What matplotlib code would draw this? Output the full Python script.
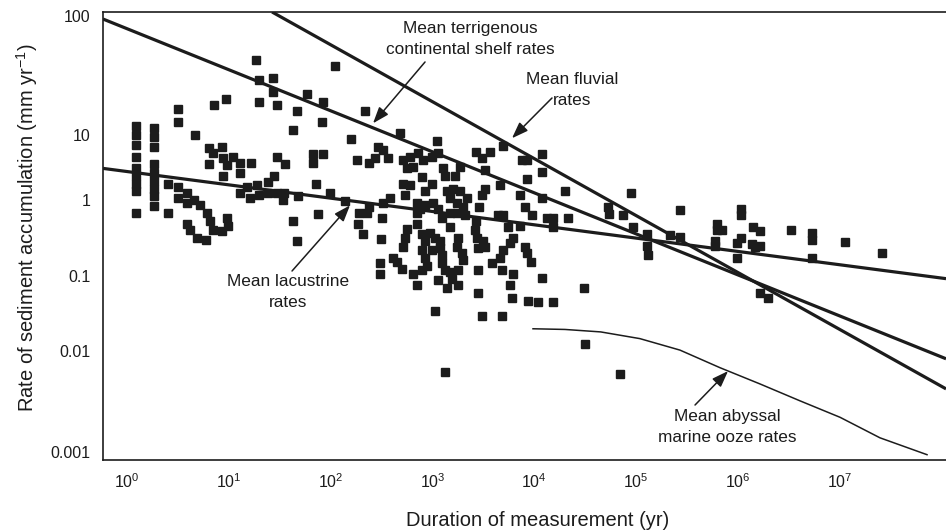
import numpy as np
import matplotlib
matplotlib.use("Agg")
import matplotlib.pyplot as plt
from matplotlib.ticker import NullLocator

plt.rcParams["font.family"] = ["Liberation Sans", "DejaVu Sans"]
plt.rcParams["mathtext.default"] = "regular"

INK = "#1c1c1c"

# ---- measurements, grouped by duration (yr) / rate (mm/yr) ----
dur_1_10 = [1.22, 1.22, 1.22, 1.22, 1.22, 1.22, 1.22, 1.22, 1.22,
            1.84, 1.84, 1.84, 1.84, 1.84, 1.84, 1.84, 1.84, 1.84,
            3.2, 3.2, 4.7, 9.4, 7.2, 2.5, 2.5, 3.2, 3.2, 3.9, 3.9, 4.5, 5.2, 6.1, 6.5,
            3.9, 4.2, 4.9, 6.0, 7.0, 8.6, 9.8, 9.6, 6.4, 7.0, 8.6, 8.8, 9.6, 8.8, 6.4]
rate_1_10 = [11.9, 10, 7.0, 4.6, 3.1, 2.4, 1.8, 1.4, 0.67,
             11.5, 9.3, 6.5, 3.6, 2.6, 2.0, 1.5, 1.15, 0.83,
             16.5, 13, 10, 20, 18, 1.8, 0.69, 1.6, 1.1, 1.3, 0.91, 1.0, 0.86, 0.67, 0.54,
             0.49, 0.40, 0.32, 0.30, 0.40, 0.39, 0.45, 0.59, 6.3, 5.3, 6.5, 4.4, 3.5, 2.4, 3.6]

dur_10_100 = [18.5, 20, 27, 27, 20, 30, 11, 13, 13, 16.5, 30, 13, 15, 16, 19, 20, 24, 28, 24, 30,
              59, 84, 47, 82, 43, 36, 67, 67, 84, 35, 34, 48, 72, 99, 75, 43, 47]
rate_10_100 = [43, 29, 30, 23, 19, 18, 4.6, 3.7, 2.6, 3.7, 4.6, 1.3, 1.6, 1.1, 1.7, 1.2, 1.9, 2.4, 1.3, 1.3,
               22, 19, 16, 13, 11, 3.6, 5.1, 3.7, 5.1, 1.3, 1.0, 1.15, 1.8, 1.3, 0.65, 0.54, 0.29]

dur_100_1e3 = [110, 220, 160, 480, 180, 240, 270, 290, 330, 370, 510, 600, 560, 650, 720,
               140, 190, 186, 230, 240, 330, 380, 320, 210, 310, 510, 600, 540, 710, 560, 540, 710, 710,
               810, 790, 990, 850, 760, 850, 790, 850, 950, 510, 790, 850, 990,
               410, 450, 500, 306, 306, 645, 790, 885, 706]
rate_100_1e3 = [38, 16, 8.7, 10.4, 4.1, 3.8, 4.4, 6.5, 5.9, 4.4, 4.1, 4.6, 3.1, 3.3, 5.3,
                0.97, 0.67, 0.49, 0.67, 0.81, 0.91, 1.07, 0.58, 0.36, 0.31, 1.8, 1.7, 1.2, 0.91, 0.42, 0.32, 0.49, 0.67,
                4.1, 2.3, 1.8, 1.4, 0.78, 0.86, 0.36, 0.29, 0.37, 0.24, 0.22, 0.17, 0.22,
                0.17, 0.15, 0.124, 0.145, 0.106, 0.106, 0.117, 0.136, 0.074]

dur_1e3_1e4 = [1100, 1000, 1140, 1270, 1330, 1670, 1870, 2700, 3100, 3700, 3300, 4900, 7600, 8500, 8500,
               4600, 3300, 3100, 7300, 8100, 9500, 1390, 1590, 1870, 1490, 1750, 2190, 2000, 2900,
               1010, 1140, 1240, 1490, 1750, 2100, 2700, 4400, 4900, 5500, 7300,
               1060, 1190, 1490, 1780, 2600, 2740, 3140, 3290, 4900, 4600, 6200, 5800, 8100, 8500, 9300,
               1190, 1240, 1750, 1950, 2000, 2800, 1240, 1330, 1490, 1780, 2800, 3850, 4830, 6200,
               1135, 1390, 1560, 1780, 2800, 5780, 6050, 8700, 1060, 3070, 4830, 1330]
rate_1e3_1e4 = [8.1, 4.6, 5.3, 3.1, 2.4, 2.4, 3.2, 5.5, 4.4, 5.5, 2.9, 6.8, 4.1, 4.1, 2.1,
                1.7, 1.5, 1.2, 1.2, 0.81, 0.63, 1.4, 1.5, 1.4, 1.07, 0.91, 1.07, 0.81, 0.81,
                0.91, 0.78, 0.59, 0.67, 0.67, 0.63, 0.54, 0.63, 0.63, 0.44, 0.46,
                0.32, 0.29, 0.44, 0.32, 0.40, 0.32, 0.29, 0.24, 0.22, 0.17, 0.32, 0.27, 0.24, 0.20, 0.15,
                0.23, 0.185, 0.24, 0.20, 0.16, 0.23, 0.145, 0.117, 0.11, 0.117, 0.117, 0.145, 0.117, 0.106,
                0.086, 0.069, 0.091, 0.074, 0.058, 0.074, 0.051, 0.046, 0.034, 0.029, 0.029, 0.0062]

dur_gt_1e4 = [12000, 11900, 11900, 20000, 89000, 13400, 15300, 21500, 15300,
              53000, 54000, 74500, 93500, 128000, 128000, 131000, 216000, 270000, 270000,
              11900, 10900, 15300, 30800, 31600, 69600,
              625000, 625000, 700000, 597000, 597000, 982000, 982000, 1.07e6, 1.07e6, 1.07e6,
              1.41e6, 1.65e6, 1.38e6, 1.48e6, 1.65e6, 3.33e6, 5.36e6, 5.36e6, 5.36e6, 1.13e7, 2.61e7,
              1.65e6, 1.98e6]
rate_gt_1e4 = [5.1, 2.7, 1.07, 1.4, 1.3, 0.59, 0.59, 0.59, 0.44,
               0.81, 0.65, 0.63, 0.44, 0.36, 0.25, 0.19, 0.35, 0.33, 0.74,
               0.094, 0.044, 0.044, 0.069, 0.0124, 0.0059,
               0.48, 0.40, 0.40, 0.29, 0.25, 0.27, 0.17, 0.78, 0.63, 0.32,
               0.44, 0.39, 0.26, 0.24, 0.245, 0.40, 0.37, 0.30, 0.17, 0.28, 0.20,
               0.059, 0.051]

# ---- mean-rate lines (end points) ----
shelf_dur = [0.581, 1.11e8]
shelf_rate = [94.3, 0.00833]
fluvial_dur = [26.6, 1.11e8]
fluvial_rate = [108, 0.0042]
lacustrine_dur = [0.581, 1.11e8]
lacustrine_rate = [3.1, 0.091]
abyssal_dur = [9730, 20000, 45000, 109000, 270000, 668000, 1.65e6, 4.08e6, 1.01e7, 2.49e7, 7.22e7]
abyssal_rate = [0.0196, 0.0192, 0.0178, 0.0145, 0.0102, 0.0068, 0.0047, 0.0032, 0.0022, 0.00138, 0.00094]

x_ticks = [1, 10, 100, 1e3, 1e4, 1e5, 1e6, 1e7]
y_ticks = [0.001, 0.01, 0.1, 1, 10, 100]
y_ticklabels = ["0.001", "0.01", "0.1", "1", "10", "100"]

# the printed y axis is not evenly spaced per decade; map log10(rate) through
# the positions where the decade labels sit
KNOT_LOG = np.array([-6.0, -3.0, -2.0, -1.0, 0.0, 1.0, 2.0, 5.0])
KNOT_POS = np.array([-754.0, -451.0, -350.0, -275.0, -200.0, -135.0, -16.0, 341.0])


def y_forward(v):
    v = np.clip(np.asarray(v, dtype=float), 1e-12, None)
    return np.interp(np.log10(v), KNOT_LOG, KNOT_POS)


def y_inverse(t):
    return 10 ** np.interp(np.asarray(t, dtype=float), KNOT_POS, KNOT_LOG)


fig = plt.figure(figsize=(9.46, 5.32), dpi=100)
ax = fig.add_axes([103 / 946, 72 / 532, 843 / 946, 448 / 532])
ax.set_xscale("log")
ax.set_yscale("function", functions=(y_forward, y_inverse))
ax.set_xlim(10 ** -0.236, 10 ** 8.045)
ax.set_ylim(0.000833, 108)

groups = [(dur_1_10, rate_1_10), (dur_10_100, rate_10_100), (dur_100_1e3, rate_100_1e3),
          (dur_1e3_1e4, rate_1e3_1e4), (dur_gt_1e4, rate_gt_1e4)]
for d, r in groups:
    ax.plot(d, r, linestyle="none", marker="s", markersize=5.4, color=INK, zorder=3)

for d, r in [(shelf_dur, shelf_rate), (fluvial_dur, fluvial_rate), (lacustrine_dur, lacustrine_rate)]:
    ax.plot(d, r, color=INK, lw=2.3, solid_capstyle="butt", zorder=4)
ax.plot(abyssal_dur, abyssal_rate, color=INK, lw=1.1, zorder=4)

ax.set_xticks(x_ticks)
ax.set_yticks(y_ticks, labels=y_ticklabels)
ax.xaxis.set_minor_locator(NullLocator())
ax.yaxis.set_minor_locator(NullLocator())
ax.tick_params(axis="both", length=0, labelsize=11.5, colors=INK)
ax.tick_params(axis="x", pad=9)
ax.tick_params(axis="y", pad=9)

for side in ("left", "bottom", "top"):
    ax.spines[side].set_linewidth(1.2)
    ax.spines[side].set_color(INK)
ax.spines["right"].set_visible(False)

ax.set_xlabel("Duration of measurement (yr)", fontsize=14.5, color=INK)
ax.xaxis.set_label_coords(0.515, -0.134)
ax.xaxis.label.set_verticalalignment("center")
ax.set_ylabel("Rate of sediment accumulation (mm yr$^{-1}$)", fontsize=14.5, color=INK)
ax.yaxis.set_label_coords(-0.090, 0.518)
ax.yaxis.label.set_verticalalignment("center")

# annotations: text block centre, arrow tail (figure fraction), arrow tip (data)
notes = [
    ("Mean terrigenous\ncontinental shelf rates", (0.4968, 0.9276), (0.4493, 0.8835), (261, 12.6)),
    ("Mean fluvial\nrates", (0.6047, 0.8308), (0.5835, 0.8158), (6050, 9.0)),
    ("Mean lacustrine\nrates", (0.3044, 0.4511), (0.3087, 0.4906), (155, 0.86)),
    ("Mean abyssal\nmarine ooze rates", (0.7685, 0.1974), (0.7347, 0.2387), (802000, 0.0063)),
]
for txt, tpos, tail, tip in notes:
    fig.text(tpos[0], tpos[1], txt, ha="center", va="center", fontsize=12.4,
             color=INK, linespacing=1.5)
    ax.annotate("", xy=tip, xycoords="data", xytext=tail, textcoords="figure fraction",
                arrowprops=dict(arrowstyle="-|>,head_length=0.55,head_width=0.2",
                                mutation_scale=18, color=INK, lw=1.1,
                                shrinkA=0, shrinkB=0),
                annotation_clip=False)

fig.savefig("out.png", dpi=100, facecolor="white")
